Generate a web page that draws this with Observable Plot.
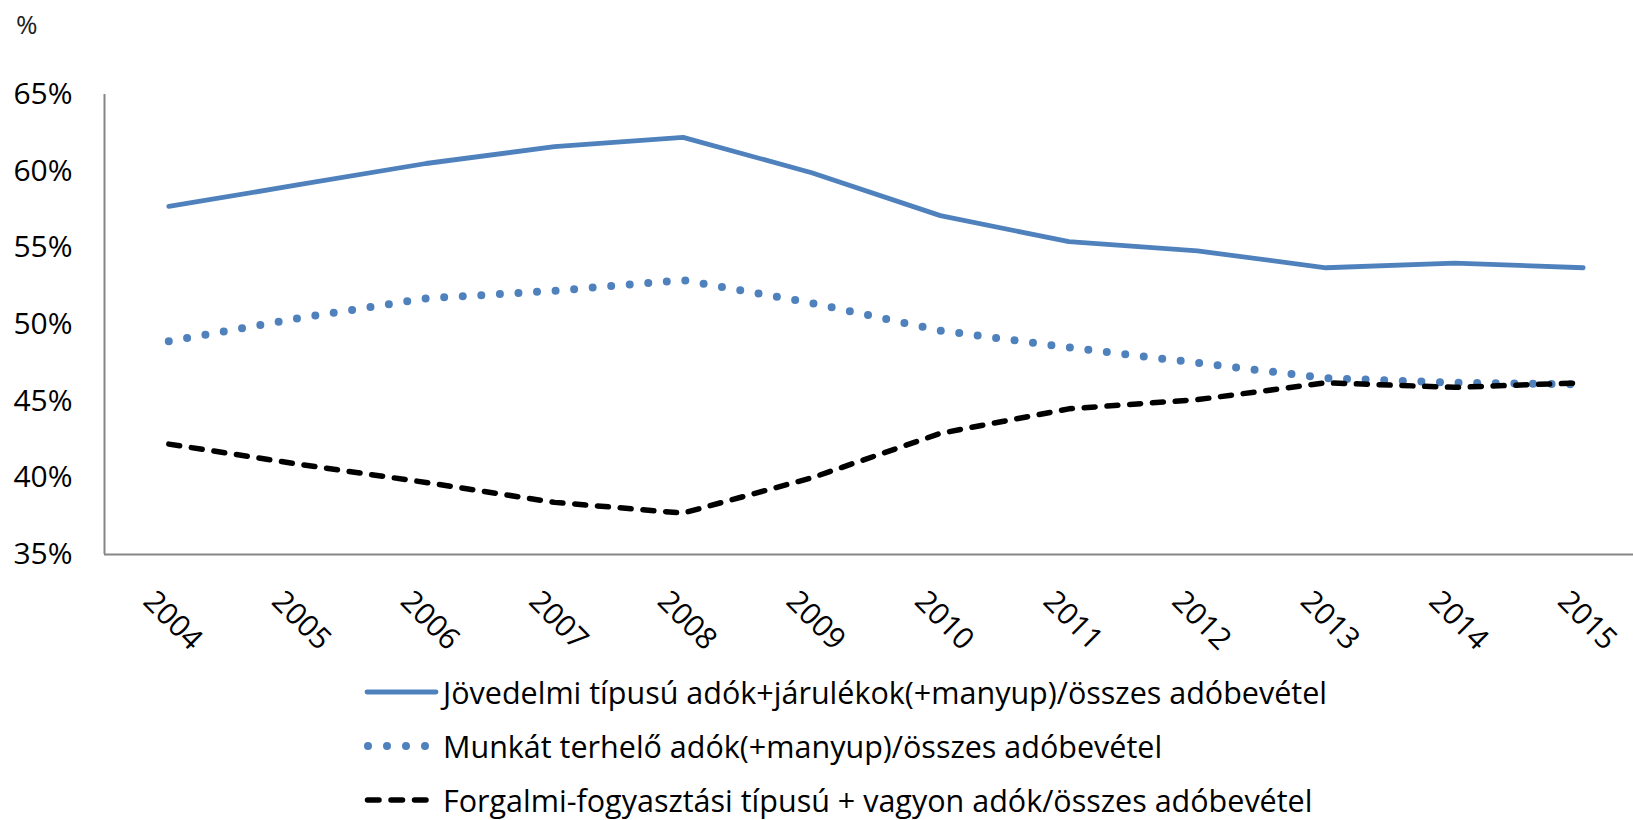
<!DOCTYPE html>
<html>
<head>
<meta charset="utf-8">
<script src="https://cdn.jsdelivr.net/npm/d3@7"></script>
<script src="https://cdn.jsdelivr.net/npm/@observablehq/plot@0.6"></script>
<style>
  html, body { margin: 0; padding: 0; background: #fff; }
  body { width: 1633px; height: 820px; overflow: hidden; position: relative; font-family: "Open Sans", "Noto Sans", sans-serif; }
  #unit { position: absolute; left: 16px; top: 6px; font-size: 26px; color: #222; }
  #legend { position: absolute; left: 362px; top: 665px; }
  .row { display: flex; align-items: center; height: 54px; font-size: 30.5px; line-height: 38px; color: #000; white-space: nowrap; }
  .row svg { width: 78px; height: 20px; margin-right: 3px; }
</style>
</head>
<body>
<div id="chart"></div>
<div id="unit">%</div>
<div id="legend"></div>
<script>
const years = [2004, 2005, 2006, 2007, 2008, 2009, 2010, 2011, 2012, 2013, 2014, 2015];
const jovedelmi = [57.7, 59.1, 60.5, 61.6, 62.2, 59.9, 57.1, 55.4, 54.8, 53.7, 54.0, 53.7];
const munkat = [48.9, 50.4, 51.7, 52.2, 52.9, 51.4, 49.6, 48.5, 47.5, 46.5, 46.2, 46.1];
const forgalmi = [42.2, 40.9, 39.7, 38.4, 37.7, 40.0, 42.9, 44.5, 45.1, 46.2, 45.9, 46.2];
const seriesNames = [
  "Jövedelmi típusú adók+járulékok(+manyup)/összes adóbevétel",
  "Munkát terhelő adók(+manyup)/összes adóbevétel",
  "Forgalmi-fogyasztási típusú + vagyon adók/összes adóbevétel"
];
const yTicks = [35, 40, 45, 50, 55, 60, 65];

const blue = "#4F81BD";
const styles = [
  {stroke: blue, strokeWidth: 4.8, strokeDasharray: null},
  {stroke: blue, strokeWidth: 8, strokeDasharray: "0 18.6"},
  {stroke: "#000", strokeWidth: 5.5, strokeDasharray: "11 11.8"}
];
const seriesValues = [jovedelmi, munkat, forgalmi];
const rows = seriesValues.flatMap((vals, s) => years.map((yr, i) => ({year: yr, value: vals[i], series: s})));

const fontFamily = '"Open Sans", "Noto Sans", sans-serif';

const chart = Plot.plot({
  width: 1633,
  height: 665,
  marginTop: 94,
  marginLeft: 104,
  marginRight: 0,
  marginBottom: 111,
  style: {fontFamily, background: "#fff"},
  x: {type: "linear", domain: [2003.5, 2015.5], range: [104, 1647], axis: null},
  y: {domain: [35, 65], axis: null},
  marks: [
    Plot.ruleY([35], {stroke: "#868686", strokeWidth: 2}),
    Plot.ruleX([2003.5], {y1: 35, y2: 65, stroke: "#868686", strokeWidth: 2}),
    Plot.text(yTicks, {x: 2003.5, y: d => d, text: d => d + "%", textAnchor: "end", dx: -32, fontSize: 30, fill: "#000"}),
    Plot.text(years, {x: d => d, y: 35, text: d => String(d), rotate: 45, textAnchor: "middle", dx: 4, dy: 66, fontSize: 30, fill: "#000"}),
    ...styles.map((st, s) => Plot.line(rows.filter(r => r.series === s), {
      x: "year", y: "value",
      stroke: st.stroke, strokeWidth: st.strokeWidth,
      strokeDasharray: st.strokeDasharray, strokeLinecap: "round", strokeLinejoin: "round"
    }))
  ]
});
document.getElementById("chart").appendChild(chart);

const legend = document.getElementById("legend");
seriesNames.forEach((name, s) => {
  const st = styles[s];
  const row = document.createElement("div");
  row.className = "row";
  let line;
  if (s === 0) line = `<line x1="5" y1="10" x2="74" y2="10" stroke="${st.stroke}" stroke-width="4.8" stroke-linecap="round"/>`;
  else if (s === 1) line = `<line x1="6" y1="10" x2="64" y2="10" stroke="${st.stroke}" stroke-width="8" stroke-linecap="round" stroke-dasharray="0 19"/>`;
  else line = `<line x1="5.5" y1="10" x2="74" y2="10" stroke="${st.stroke}" stroke-width="5.5" stroke-linecap="round" stroke-dasharray="11.5 12"/>`;
  row.innerHTML = `<svg viewBox="0 0 78 20">${line}</svg><span>${name}</span>`;
  legend.appendChild(row);
});
</script>
</body>
</html>
